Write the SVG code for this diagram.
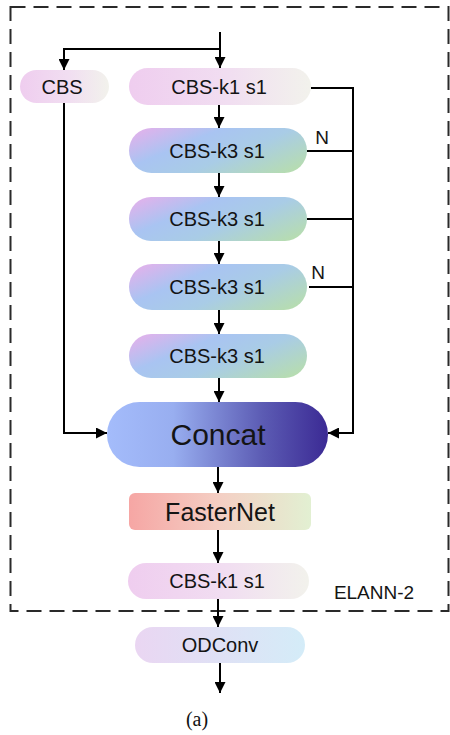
<svg xmlns="http://www.w3.org/2000/svg" width="450" height="735" viewBox="0 0 450 735">
  <defs>
    <linearGradient id="gPink" x1="0" y1="0" x2="1" y2="0">
      <stop offset="0" stop-color="#efcdef"/>
      <stop offset="0.55" stop-color="#f1def1"/>
      <stop offset="1" stop-color="#f2f2ec"/>
    </linearGradient>
    <linearGradient id="gK3" x1="0" y1="0.2" x2="1" y2="0.8">
      <stop offset="0" stop-color="#dbb4ec"/>
      <stop offset="0.3" stop-color="#a9c4f2"/>
      <stop offset="0.6" stop-color="#a9cce6"/>
      <stop offset="1" stop-color="#b6dcb2"/>
    </linearGradient>
    <linearGradient id="gConcat" x1="0" y1="0" x2="1" y2="0">
      <stop offset="0" stop-color="#a4bcfb"/>
      <stop offset="0.3" stop-color="#98aef0"/>
      <stop offset="0.7" stop-color="#5c5cb4"/>
      <stop offset="1" stop-color="#3b2a94"/>
    </linearGradient>
    <linearGradient id="gFaster" x1="0" y1="0" x2="1" y2="0">
      <stop offset="0" stop-color="#f6a6a4"/>
      <stop offset="0.5" stop-color="#f4cfc4"/>
      <stop offset="1" stop-color="#e2f0d2"/>
    </linearGradient>
    <linearGradient id="gOD" x1="0" y1="0" x2="1" y2="0">
      <stop offset="0" stop-color="#ead6f2"/>
      <stop offset="1" stop-color="#d4ecf8"/>
    </linearGradient>
    <marker id="arr" viewBox="0 0 10 10" refX="10" refY="5" markerWidth="11" markerHeight="11" markerUnits="userSpaceOnUse" orient="auto">
      <path d="M0,0 L10,5 L0,10 Z" fill="#000"/>
    </marker>
  </defs>
  <style>
    .lbl { font-family: "Liberation Sans", Arial, sans-serif; fill: #141414; text-anchor: middle; dominant-baseline: central; }
    .wire { fill: none; stroke: #000; stroke-width: 2; }
    .arrow { fill: none; stroke: #000; stroke-width: 2; marker-end: url(#arr); }
  </style>

  <rect width="450" height="735" fill="#fff"/>

  <!-- ELANN-2 block outline -->
  <rect x="10.5" y="7" width="438" height="604" fill="none" stroke="#2a2a2a" stroke-width="2" stroke-dasharray="15 8"/>
  <text class="lbl" x="374" y="592" font-size="19">ELANN-2</text>

  <!-- connectors -->
  <g id="connectors">
    <path class="arrow" d="M220,32 V68"/>
    <path class="arrow" d="M220,49 H64 V70"/>
    <path class="arrow" d="M219,105 V128"/>
    <path class="arrow" d="M219,173 V197"/>
    <path class="arrow" d="M219,241 V264"/>
    <path class="arrow" d="M219,310 V334"/>
    <path class="arrow" d="M219,378 V402"/>
    <path class="arrow" d="M64,103 V433 H107"/>
    <path class="arrow" d="M311,88 H353 V433 H328"/>
    <path class="wire" d="M307,151 H353"/>
    <path class="wire" d="M307,219 H353"/>
    <path class="wire" d="M309,287 H353"/>
    <path class="arrow" d="M218,467 V493"/>
    <path class="arrow" d="M218,530 V563"/>
    <path class="arrow" d="M218,599 V627"/>
    <path class="arrow" d="M220,663 V693"/>
    <text class="lbl" x="322" y="137" font-size="19">N</text>
    <text class="lbl" x="318" y="272" font-size="19">N</text>
  </g>

  <g id="cbs">
    <rect x="20" y="70" width="89" height="33" rx="16.5" fill="url(#gPink)"/>
    <text class="lbl" x="62" y="87" font-size="20">CBS</text>
  </g>
  <g id="cbs-k1-top">
    <rect x="129" y="68" width="182" height="37" rx="18.5" fill="url(#gPink)"/>
    <text class="lbl" x="219" y="87" font-size="20">CBS-k1 s1</text>
  </g>
  <g id="cbs-k3-1">
    <rect x="129" y="128" width="178" height="45" rx="22.5" fill="url(#gK3)"/>
    <text class="lbl" x="217" y="151" font-size="20">CBS-k3 s1</text>
  </g>
  <g id="cbs-k3-2">
    <rect x="129" y="197" width="178" height="44" rx="22" fill="url(#gK3)"/>
    <text class="lbl" x="217" y="219" font-size="20">CBS-k3 s1</text>
  </g>
  <g id="cbs-k3-3">
    <rect x="129" y="264" width="178" height="46" rx="23" fill="url(#gK3)"/>
    <text class="lbl" x="217" y="287" font-size="20">CBS-k3 s1</text>
  </g>
  <g id="cbs-k3-4">
    <rect x="129" y="334" width="178" height="44" rx="22" fill="url(#gK3)"/>
    <text class="lbl" x="217" y="356" font-size="20">CBS-k3 s1</text>
  </g>
  <g id="concat">
    <rect x="107" y="402" width="221" height="65" rx="32.5" fill="url(#gConcat)"/>
    <text class="lbl" x="218" y="434" font-size="30">Concat</text>
  </g>
  <g id="fasternet">
    <rect x="129" y="493" width="182" height="37" rx="6" fill="url(#gFaster)"/>
    <text class="lbl" x="220" y="512" font-size="25">FasterNet</text>
  </g>
  <g id="cbs-k1-bottom">
    <rect x="128" y="563" width="181" height="36" rx="18" fill="url(#gPink)"/>
    <text class="lbl" x="217" y="581" font-size="20">CBS-k1 s1</text>
  </g>
  <g id="odconv">
    <rect x="135" y="627" width="170" height="36" rx="18" fill="url(#gOD)"/>
    <text class="lbl" x="220" y="645" font-size="20">ODConv</text>
  </g>

  <text x="197" y="726" font-family="Liberation Serif, 'Times New Roman', serif" font-size="20" fill="#111" text-anchor="middle">(a)</text>
</svg>
